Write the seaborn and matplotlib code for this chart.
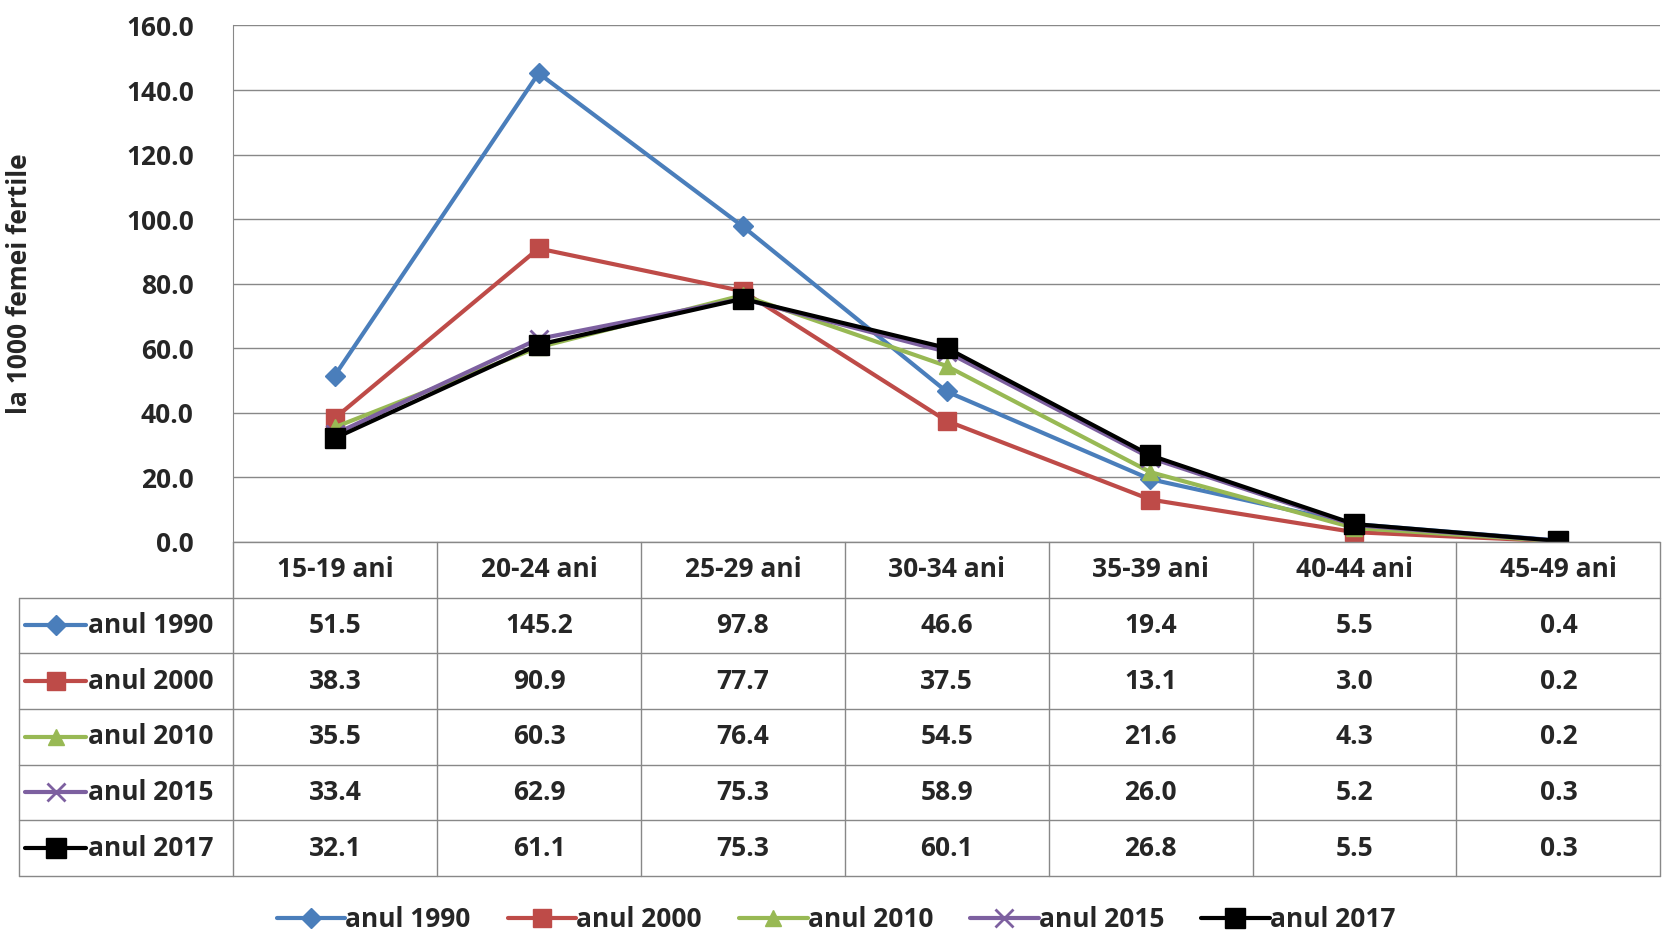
import matplotlib
matplotlib.use("Agg")
import matplotlib.pyplot as plt
import seaborn as sns
import pandas as pd
from matplotlib.lines import Line2D

categories = ["15-19 ani", "20-24 ani", "25-29 ani", "30-34 ani", "35-39 ani", "40-44 ani", "45-49 ani"]
series_names = ["anul 1990", "anul 2000", "anul 2010", "anul 2015", "anul 2017"]
v1990 = [51.5, 145.2, 97.8, 46.6, 19.4, 5.5, 0.4]
v2000 = [38.3, 90.9, 77.7, 37.5, 13.1, 3.0, 0.2]
v2010 = [35.5, 60.3, 76.4, 54.5, 21.6, 4.3, 0.2]
v2015 = [33.4, 62.9, 75.3, 58.9, 26.0, 5.2, 0.3]
v2017 = [32.1, 61.1, 75.3, 60.1, 26.8, 5.5, 0.3]
values = [v1990, v2000, v2010, v2015, v2017]
colors = ["#4A7EBB", "#BE4B48", "#98B954", "#7D60A0", "#000000"]
markers = ["D", "s", "^", "x", "s"]
msizes = [10, 13, 12, 13, 14]

sns.set_style("white")
plt.rcParams['font.family'] = ['Open Sans', 'DejaVu Sans']
plt.rcParams['font.weight'] = 'bold'
FS = 19

fig = plt.figure(figsize=(16.62, 9.44), dpi=100)
ax = fig.add_axes([0.140, 0.426, 0.859, 0.547])

rows = []
for name, vals in zip(series_names, values):
    for i, v in enumerate(vals):
        rows.append({"x": i, "y": v, "s": name})
df = pd.DataFrame(rows)
for name, c, m, ms in zip(series_names, colors, markers, msizes):
    sub = df[df.s == name]
    sns.lineplot(data=sub, x="x", y="y", ax=ax, color=c, marker=m, markersize=ms,
                 linewidth=3, markeredgecolor=c, markeredgewidth=2 if m == "x" else 1, legend=False)

ax.set_xlim(-0.5, 6.5)
ax.set_ylim(0, 160)
ax.set_yticks(range(0, 161, 20))
ax.set_yticklabels([f"{t:.1f}" for t in range(0, 161, 20)], fontsize=FS, fontweight='bold')
ax.set_xticks([])
ax.set_xlabel("")
ax.set_ylabel("la 1000 femei fertile", fontsize=FS, fontweight='bold')
ax.yaxis.set_label_coords(-0.14, 0.5)
ax.grid(axis='y', color='#888888', linewidth=1)
for s in ["top", "right", "bottom"]:
    ax.spines[s].set_visible(False)
ax.spines["left"].set_color("#888888")
ax.tick_params(axis='y', length=0, pad=28)

# data table
tx = fig.add_axes([0.0115, 0.072, 0.9875, 0.354])
tx.set_xlim(-1.55, 6.5)
tx.set_ylim(6, 0)
tx.axis("off")
lc = "#888888"
tx.plot([-0.5, 6.5], [0, 0], color=lc, lw=1, clip_on=False)
for r in range(1, 7):
    tx.plot([-1.55, 6.5], [r, r], color=lc, lw=1, clip_on=False)
for xv in [i - 0.5 for i in range(8)]:
    tx.plot([xv, xv], [0, 6], color=lc, lw=1, clip_on=False)
tx.plot([-1.55, -1.55], [1, 6], color=lc, lw=1, clip_on=False)
for i, c in enumerate(categories):
    tx.text(i, 0.5, c, ha='center', va='center', fontsize=FS, fontweight='bold')
for r, (name, vals, c, m, ms) in enumerate(zip(series_names, values, colors, markers, msizes)):
    y = r + 1.5
    tx.plot([-1.52, -1.22], [y, y], color=c, lw=3)
    tx.plot([-1.37], [y], marker=m, color=c, markersize=ms, markeredgewidth=2 if m == "x" else 1)
    tx.text(-1.21, y, name, ha='left', va='center', fontsize=FS, fontweight='bold')
    for i, v in enumerate(vals):
        tx.text(i, y, f"{v:.1f}", ha='center', va='center', fontsize=FS, fontweight='bold')

handles = [Line2D([], [], color=c, marker=m, markersize=ms, lw=3,
                  markeredgewidth=2 if m == "x" else 1) for c, m, ms in zip(colors, markers, msizes)]
fig.legend(handles, series_names, loc='center', bbox_to_anchor=(0.503, 0.026), ncol=5,
           frameon=False, handlelength=2.6, handletextpad=0.0, columnspacing=1.4,
           prop={'size': FS, 'weight': 'bold'})

fig.savefig("out.png", dpi=100)
